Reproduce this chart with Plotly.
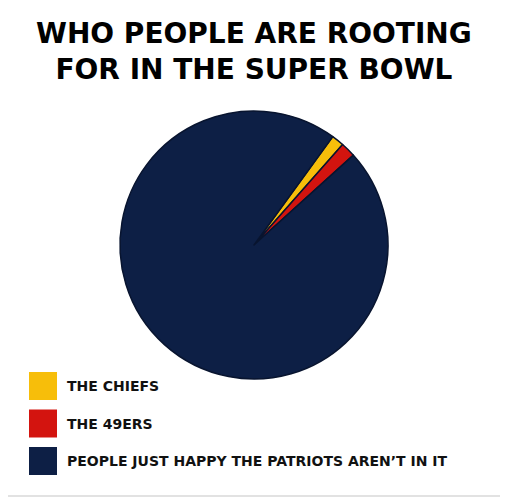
import plotly.graph_objects as go

labels = ["THE CHIEFS", "THE 49ERS", "PEOPLE JUST HAPPY THE PATRIOTS AREN\u2019T IN IT"]
shares = [1.5, 1.8, 96.7]
colors = ["#F7BE0A", "#D3140F", "#0D1F45"]
title = "WHO PEOPLE ARE ROOTING<br>FOR IN THE SUPER BOWL"

OFF = 8  # the page body margin pushes the figure 8px right and down
W, H = 508 - OFF, 499 - OFF


def px_x(x):
    return (x - OFF) / W


def px_y(y):
    return 1 - (y - OFF) / H


cx, cy, r = 254, 245, 134

fig = go.Figure(go.Pie(
    labels=labels, values=shares, sort=False, direction="clockwise",
    rotation=36, marker=dict(colors=colors, line=dict(color="#08142f", width=1.5)),
    textinfo="none", hoverinfo="label+percent", showlegend=False,
    domain=dict(x=[px_x(cx - r), px_x(cx + r)], y=[px_y(cy + r), px_y(cy - r)]),
))

# hand-made legend with big square swatches
shapes = [dict(type="rect", xref="paper", yref="paper",
               x0=px_x(3), x1=px_x(503), y0=px_y(496), y1=px_y(-5),
               line=dict(color="#d9d9d9", width=1.5), layer="below")]
annotations = []
for i, (lab, col) in enumerate(zip(labels, colors)):
    top = 372 + i * 37.5
    shapes.append(dict(type="rect", xref="paper", yref="paper",
                       x0=px_x(29), x1=px_x(57), y0=px_y(top + 28), y1=px_y(top),
                       fillcolor=col, line=dict(width=0)))
    annotations.append(dict(text="<b>" + lab + "</b>", xref="paper", yref="paper",
                            x=px_x(65), y=px_y(top + 14), xanchor="left", yanchor="middle",
                            showarrow=False,
                            font=dict(family="DejaVu Sans", size=14, color="#111")))

annotations.append(dict(text="<b>" + title + "</b>", xref="paper", yref="paper",
                        x=px_x(254), y=px_y(52), xanchor="center", yanchor="middle",
                        showarrow=False,
                        font=dict(family="DejaVu Sans", size=28, color="#000")))

fig.update_layout(width=W, height=H, margin=dict(l=0, r=0, t=0, b=0),
                  paper_bgcolor="white", plot_bgcolor="white",
                  shapes=shapes, annotations=annotations)

fig.write_html("out.html")
